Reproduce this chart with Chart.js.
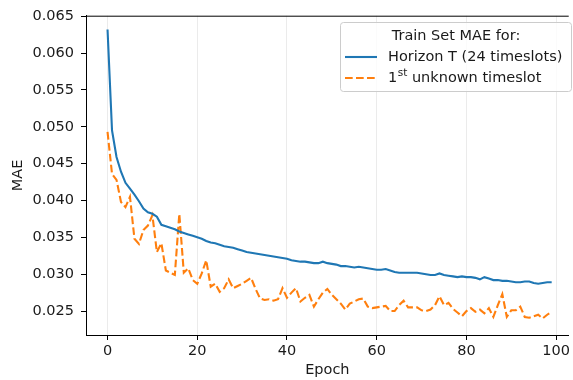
<!DOCTYPE html>
<html>
<head>
<meta charset="utf-8">
<script src="https://cdn.jsdelivr.net/npm/chart.js@4.4.1/dist/chart.umd.min.js"></script>
<style>
  html, body { margin: 0; padding: 0; background: #fff; overflow: hidden; }
  canvas { display: block; }
</style>
</head>
<body>
<canvas id="mae-chart" width="573" height="380"></canvas>
<script>
// epochs 0..99
const epochs = Array.from({ length: 100 }, (_, i) => i);

const horizonMae = [
  0.0632, 0.0495, 0.0459, 0.0439, 0.0424, 0.0416, 0.0408, 0.0399, 0.0389, 0.0384,
  0.0382, 0.0378, 0.0367, 0.0365, 0.0363, 0.0361, 0.0358, 0.0356, 0.0354, 0.0352,
  0.0350, 0.0348, 0.0345, 0.0343, 0.0342, 0.0340, 0.0338, 0.0337, 0.0336, 0.0334,
  0.0332, 0.0330, 0.0329, 0.0328, 0.0327, 0.0326, 0.0325, 0.0324, 0.0323, 0.0322,
  0.0321, 0.0319, 0.0318, 0.0317, 0.0317, 0.0316, 0.0315, 0.0315, 0.0317, 0.0315,
  0.0314, 0.0313, 0.0311, 0.0311, 0.0310, 0.0309, 0.0310, 0.0309, 0.0308, 0.0307,
  0.0306, 0.0306, 0.0307, 0.0305, 0.0303, 0.0302, 0.0302, 0.0302, 0.0302, 0.0302,
  0.0301, 0.0300, 0.0299, 0.0299, 0.0301, 0.0299, 0.0298, 0.0297, 0.0296, 0.0297,
  0.0296, 0.0296, 0.0295, 0.0293, 0.0296, 0.0294, 0.0292, 0.0292, 0.0291, 0.0291,
  0.0290, 0.0289, 0.0289, 0.0290, 0.0290, 0.0288, 0.0287, 0.0288, 0.0289, 0.0289
];

const firstSlotMae = [
  0.0493, 0.0436, 0.0428, 0.0398, 0.0391, 0.0405, 0.0348, 0.0341, 0.0360, 0.0366,
  0.0380, 0.0330, 0.0342, 0.0305, 0.0302, 0.0299, 0.0382, 0.0302, 0.0308, 0.0292,
  0.0287, 0.0301, 0.0319, 0.0283, 0.0287, 0.0276, 0.0281, 0.0293, 0.0281, 0.0284,
  0.0287, 0.0291, 0.0295, 0.0280, 0.0267, 0.0265, 0.0266, 0.0264, 0.0266, 0.0281,
  0.0268, 0.0275, 0.0281, 0.0263, 0.0268, 0.0272, 0.0256, 0.0266, 0.0275, 0.0280,
  0.0272, 0.0266, 0.0260, 0.0252, 0.0260, 0.0263, 0.0266, 0.0267, 0.0256, 0.0254,
  0.0255, 0.0256, 0.0257, 0.0250, 0.0250, 0.0258, 0.0264, 0.0255, 0.0255, 0.0255,
  0.0251, 0.0250, 0.0252, 0.0258, 0.0270, 0.0258, 0.0261, 0.0253, 0.0248, 0.0243,
  0.0250, 0.0254, 0.0249, 0.0252, 0.0247, 0.0254, 0.0242, 0.0258, 0.0273, 0.0242,
  0.0251, 0.0251, 0.0256, 0.0242, 0.0241, 0.0243, 0.0245, 0.0240, 0.0245, 0.0249
];

const xTicks = [0, 20, 40, 60, 80, 100];
const yTicks = [0.025, 0.030, 0.035, 0.040, 0.045, 0.050, 0.055, 0.060, 0.065];
const legendTitle = 'Train Set MAE for:';
const seriesLabels = ['Horizon T (24 timeslots)', '1st unknown timeslot'];

const FONT = '"DejaVu Sans", sans-serif';
const FONT_SIZE = 14.5;
const TEXT = '#1a1a1a';

function toPoints(values) {
  return values.map((v, i) => ({ x: epochs[i], y: v }));
}

// draws the top spine and the matplotlib-like legend box
const frameAndLegend = {
  id: 'frameAndLegend',
  afterDraw(chart) {
    const { ctx, chartArea } = chart;
    ctx.save();

    ctx.strokeStyle = '#000';
    ctx.lineWidth = 1;
    ctx.beginPath();
    ctx.moveTo(chartArea.left, chartArea.top + 0.5);
    ctx.lineTo(chartArea.right, chartArea.top + 0.5);
    ctx.stroke();

    const box = { x: 340.5, y: 22.5, w: 231, h: 69 };
    ctx.beginPath();
    ctx.roundRect(box.x, box.y, box.w, box.h, 3);
    ctx.fillStyle = 'rgba(255,255,255,0.8)';
    ctx.fill();
    ctx.strokeStyle = '#cccccc';
    ctx.stroke();

    const font = FONT_SIZE + 'px ' + FONT;
    ctx.fillStyle = TEXT;
    ctx.font = font;
    ctx.textBaseline = 'middle';
    ctx.textAlign = 'center';
    ctx.fillText(legendTitle, box.x + box.w / 2, 36);

    ctx.textAlign = 'left';
    chart.data.datasets.forEach((ds, i) => {
      const y = 57 + i * 21;
      ctx.strokeStyle = ds.borderColor;
      ctx.lineWidth = ds.borderWidth;
      ctx.setLineDash(ds.borderDash || []);
      ctx.beginPath();
      ctx.moveTo(345, y);
      ctx.lineTo(377, y);
      ctx.stroke();
      ctx.setLineDash([]);

      const m = ds.label.match(/^(\d+)(st|nd|rd|th)(.*)$/);
      let x = 388;
      if (m) {
        ctx.font = font;
        ctx.fillText(m[1], x, y);
        x += ctx.measureText(m[1]).width + 0.5;
        ctx.font = '10.5px ' + FONT;
        ctx.fillText(m[2], x, y - 5);
        x += ctx.measureText(m[2]).width;
        ctx.font = font;
        ctx.fillText(m[3], x, y);
      } else {
        ctx.font = font;
        ctx.fillText(ds.label, x, y);
      }
    });
    ctx.restore();
  }
};

new Chart(document.getElementById('mae-chart'), {
  type: 'line',
  data: {
    datasets: [
      {
        label: seriesLabels[0],
        data: toPoints(horizonMae),
        borderColor: '#1f77b4',
        borderWidth: 2.1,
        pointRadius: 0,
        tension: 0
      },
      {
        label: seriesLabels[1],
        data: toPoints(firstSlotMae),
        borderColor: '#ff7f0e',
        borderWidth: 2.1,
        borderDash: [7.7, 3.3],
        pointRadius: 0,
        tension: 0
      }
    ]
  },
  options: {
    responsive: false,
    animation: false,
    events: [],
    layout: { autoPadding: false, padding: { top: 15, left: 0, right: 0, bottom: 0 } },
    plugins: {
      legend: { display: false },
      tooltip: { enabled: false }
    },
    scales: {
      x: {
        type: 'linear',
        min: -4.8,
        max: 102.8,
        afterBuildTicks: (s) => { s.ticks = xTicks.map((v) => ({ value: v })); },
        afterFit: (s) => { s.height = 45; },
        grid: {
          color: '#ebebeb',
          lineWidth: 1,
          tickColor: '#000',
          tickLength: 5,
          tickWidth: 1
        },
        border: { color: '#000', width: 1 },
        ticks: {
          color: TEXT,
          font: { family: FONT, size: FONT_SIZE },
          padding: 3,
          maxRotation: 0,
          callback: (v) => String(v)
        },
        title: {
          display: true,
          text: 'Epoch',
          color: TEXT,
          font: { family: FONT, size: FONT_SIZE },
          padding: { top: 0, bottom: 1 }
        }
      },
      y: {
        type: 'linear',
        min: 0.02175,
        max: 0.06507,
        afterBuildTicks: (s) => { s.ticks = yTicks.map((v) => ({ value: v })); },
        afterFit: (s) => { s.width = 86; },
        grid: {
          drawOnChartArea: false,
          tickColor: '#000',
          tickLength: 5,
          tickWidth: 1
        },
        border: { color: '#000', width: 1 },
        ticks: {
          color: TEXT,
          font: { family: FONT, size: FONT_SIZE },
          padding: 7,
          callback: (v) => v.toFixed(3)
        },
        title: {
          display: true,
          text: 'MAE',
          color: TEXT,
          font: { family: FONT, size: FONT_SIZE },
          padding: { top: 10, bottom: 0 }
        }
      }
    }
  },
  plugins: [frameAndLegend]
});
</script>
</body>
</html>
